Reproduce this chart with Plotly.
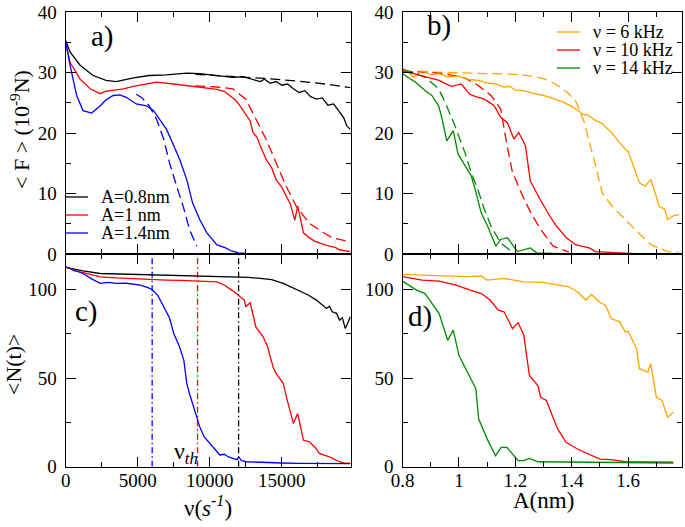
import plotly.graph_objects as go

# ---------------- data ----------------
# Panel a: <F> vs frequency (Hz), solid = simulation, dashed = model
a_labels = ["A=0.8nm", "A=1 nm", "A=1.4nm"]
a_colors = ["#000000", "#ff0000", "#0000ff"]

a_black_x = [0, 300, 1000, 1900, 2800, 3500, 4700, 5800, 7000, 8400, 9300, 10500, 11600, 12300, 13000,
             13500, 13800, 14200, 14600, 15000, 15400, 15800, 16200, 16600, 17000, 17400, 17800, 18200,
             18600, 19000, 19300, 19500, 19750]
a_black_y = [35.3, 33.4, 31.2, 29.5, 28.7, 28.5, 29.1, 29.5, 29.6, 29.9, 29.8, 29.5, 29.2, 29.3, 28.9,
             28.5, 28.9, 28.2, 28.5, 27.9, 28.1, 27.3, 26.7, 27.0, 26.0, 25.6, 25.8, 24.6,
             24.8, 23.4, 22.5, 21.2, 20.6]
a_red_x = [0, 300, 1000, 1700, 2400, 2800, 3100, 4000, 4700, 5500, 6300, 7500, 8500, 9300, 10500, 11000,
           11400, 11800, 12100, 12300, 12500, 12800, 13000, 13300, 13500, 13900, 14300, 14600, 15000,
           15300, 15600, 15900, 16100, 16500, 16900, 17300, 17600, 18000, 18300, 18700, 19000, 19300, 19750]
a_red_y = [35.0, 31.7, 28.9, 27.3, 26.5, 26.9, 27.0, 27.3, 27.7, 28.1, 28.4, 28.1, 27.8, 27.6, 27.2, 26.9,
           26.2, 25.4, 24.5, 23.8, 23.1, 22.0, 20.1, 19.2, 17.9, 15.7, 14.2, 12.3, 11.0,
           9.6, 8.2, 5.6, 7.9, 3.5, 2.7, 2.1, 1.8, 1.5, 1.3, 1.1, 0.7, 0.6, 0.4]
a_blue_x = [0, 300, 760, 1200, 1800, 2400, 2800, 3300, 3760, 4200, 4900, 5600, 6100, 6500, 7000, 7500,
            7900, 8400, 8800, 9300, 9800, 10500, 11100, 11500, 12000, 12500, 13000, 14000, 16000, 19750]
a_blue_y = [35.0, 31.2, 26.2, 23.7, 23.3, 24.5, 25.5, 26.2, 26.3, 25.9, 24.8, 24.5, 23.7, 22.3, 20.6, 17.9,
            15.7, 12.3, 8.5, 5.7, 3.5, 1.5, 1.0, 0.5, 0.2, 0.1, 0.05, 0.0, 0.0, 0.0]

a_black_dx = [9000, 12000, 14000, 16000, 18000, 19750]
a_black_dy = [29.7, 29.3, 29.0, 28.6, 28.1, 27.5]
a_red_dx = [9000, 10500, 11600, 12500, 13200, 13900, 14600, 15300, 16000, 16900, 17900, 18500, 19000, 19750]
a_red_dy = [27.8, 27.6, 27.3, 25.6, 22.3, 19.0, 15.1, 11.2, 7.9, 5.1, 3.5, 2.7, 2.4, 2.0]
a_blue_dx = [4900, 5300, 5800, 6300, 6800, 7200, 7700, 8150, 8600, 9100]
a_blue_dy = [26.4, 25.8, 24.5, 22.3, 19.0, 15.1, 11.2, 7.9, 4.0, 1.3]

# Panel b: <F> vs amplitude (nm)
b_labels = ["\u03bd = 6 kHz", "\u03bd = 10 kHz", "\u03bd = 14 kHz"]
b_colors = ["#ffa500", "#ff0000", "#008b00"]

b_orange_x = [0.8, 0.82, 0.84, 0.87, 0.9, 0.93, 0.96, 1.0, 1.04, 1.07, 1.1, 1.13, 1.16, 1.18, 1.2, 1.23,
              1.26, 1.3, 1.34, 1.37, 1.4, 1.44, 1.46, 1.48, 1.51, 1.54, 1.57, 1.59, 1.6, 1.62, 1.64, 1.66,
              1.68, 1.7, 1.71, 1.73, 1.74, 1.76, 1.78]
b_orange_y = [30.4, 30.1, 29.2, 30.3, 29.6, 29.8, 29.3, 29.4, 28.8, 28.7, 28.3, 28.1, 27.6, 27.7, 27.1, 27.0,
              26.6, 26.2, 25.6, 25.1, 24.4, 23.1, 22.9, 22.2, 21.5, 20.1, 18.4, 17.3, 17.0, 14.5, 11.8, 11.2,
              12.3, 9.5, 7.9, 7.4, 5.7, 6.3, 6.5]
b_red_x = [0.8, 0.84, 0.87, 0.9, 0.93, 0.95, 0.974, 1.009, 1.038, 1.06, 1.09, 1.125, 1.148, 1.172, 1.195,
           1.212, 1.236, 1.253, 1.288, 1.323, 1.346, 1.381, 1.415, 1.462, 1.485, 1.57, 1.65, 1.78]
b_red_y = [30.3, 29.8, 29.5, 29.0, 28.7, 28.2, 27.7, 28.1, 26.4, 26.0, 25.6, 24.5, 22.6, 21.7, 19.0,
           20.1, 17.9, 12.1, 9.0, 6.2, 4.6, 2.7, 1.5, 1.0, 0.4, 0.2, 0.0, 0.0]
b_green_x = [0.8, 0.846, 0.881, 0.904, 0.928, 0.939, 0.957, 0.98, 0.997, 1.021, 1.044, 1.061, 1.079, 1.102,
             1.131, 1.148, 1.172, 1.207, 1.236, 1.253, 1.276, 1.4, 1.78]
b_green_y = [29.8, 28.4, 27.0, 26.2, 24.5, 22.6, 18.7, 20.4, 16.5, 14.6, 12.9, 10.1, 6.8, 4.6,
             1.3, 2.4, 2.7, 0.4, 0.7, 1.0, 0.2, 0.0, 0.0]

b_orange_dx = [0.8, 0.9, 1.0, 1.1, 1.2, 1.26, 1.3, 1.334, 1.36, 1.39, 1.416, 1.43, 1.445, 1.465, 1.485,
               1.508, 1.543, 1.59, 1.636, 1.683, 1.741, 1.78]
b_orange_dy = [30.2, 30.1, 30.0, 29.9, 29.7, 29.4, 29.0, 28.3, 27.6, 26.5, 25.1, 23.5, 21.7, 18.0, 14.6,
               10.1, 7.9, 5.7, 3.5, 1.5, 0.4, 0.2]
b_red_dx = [0.8, 0.9, 0.96, 1.02, 1.067, 1.114, 1.148, 1.16, 1.172, 1.189, 1.218, 1.253, 1.288, 1.334, 1.39]
b_red_dy = [30.2, 30.0, 29.7, 29.1, 27.9, 26.2, 24.0, 20.4, 17.6, 13.7, 10.4, 7.0, 4.2, 1.3, 0.3]
b_green_dx = [0.8, 0.881, 0.928, 0.951, 0.986, 1.021, 1.044, 1.067, 1.09, 1.114, 1.148, 1.183]
b_green_dy = [30.6, 29.2, 27.3, 25.1, 21.2, 16.8, 13.4, 10.7, 7.4, 4.6, 1.8, 0.6]

# Panel c: <N(t)> vs frequency (Hz)
c_black_x = [0, 500, 1200, 2400, 3500, 4700, 5800, 7000, 8200, 9300, 10500, 11500, 12100, 12700, 13500,
             14300, 15100, 15600, 16200, 16800, 17400, 17800, 18100, 18300, 18500, 18800, 19000, 19200,
             19400, 19550, 19750]
c_black_y = [112.4, 111.5, 110.5, 109.0, 108.8, 108.3, 108.1, 107.8, 107.6, 107.5, 107.2, 107.2, 107.1, 106.8,
             106.2, 105.5, 103.4, 101.5, 99.6, 97.0, 94.0, 91.5, 89.3, 90.5, 87.4, 86.5, 82.7, 84.0,
             78.0, 80.5, 84.6]
c_red_x = [0, 600, 1200, 2400, 3500, 4700, 5800, 7000, 8000, 9100, 10000, 10500, 11000, 11600, 12100, 12400,
           12500, 12800, 13200, 13500, 13700, 14000, 14200, 14400, 14600, 14900, 15100, 15300, 15500, 15800,
           16100, 16300, 16500, 16900, 17300, 17600, 18000, 18300, 18700, 19000, 19300, 19750]
c_red_y = [112.8, 110.5, 109.5, 107.1, 106.5, 106.0, 105.6, 105.3, 105.1, 104.9, 104.6, 104.3, 102.5, 99.2,
           95.9, 94.0, 90.2, 92.5, 78.9, 75.5, 73.3, 68.0, 62.0, 56.0, 52.6, 49.5, 47.0, 40.0, 33.8, 24.4,
           30.0, 22.0, 15.0, 14.1, 11.0, 7.5, 6.5, 5.6, 4.0, 2.8, 2.2, 1.9]
c_blue_x = [0, 600, 1200, 1800, 2400, 3000, 3500, 4200, 5200, 5700, 6000, 6400, 6800, 7200, 7500, 7900,
            8200, 8400, 8600, 8800, 9100, 9300, 9600, 10000, 10300, 10700, 11000, 11300, 11600, 11900,
            12000, 12200, 12500, 13000, 13900, 15000, 16200, 17500, 19750]
c_blue_y = [112.8, 111.0, 109.0, 106.0, 103.4, 104.0, 103.4, 103.5, 102.4, 101.0, 100.0, 96.5, 90.2, 84.0,
            75.2, 67.7, 60.0, 47.0, 41.0, 35.7, 29.0, 22.6, 17.0, 13.2, 10.0, 6.6, 7.0, 5.5, 4.7, 4.0,
            5.5, 3.5, 2.8, 2.6, 2.3, 2.1, 1.9, 1.8, 1.7]
nu_th = [6000, 9150, 12000]   # threshold frequencies (blue, red, black)
nu_th_colors = ["#0000ff", "#ff0000", "#000000"]

# Panel d: <N(t)> vs amplitude (nm)
d_orange_x = [0.8, 0.93, 1.02, 1.08, 1.1, 1.16, 1.23, 1.3, 1.35, 1.39, 1.42, 1.45, 1.47, 1.5, 1.52, 1.54,
              1.57, 1.59, 1.6, 1.63, 1.64, 1.67, 1.68, 1.7, 1.72, 1.74, 1.76]
d_orange_y = [108.5, 107.7, 107.2, 107.5, 105.3, 106.2, 104.3, 104.0, 102.5, 101.5, 98.7, 94.0, 97.2, 92.6,
              91.1, 83.6, 81.7, 76.0, 76.4, 66.6, 55.3, 53.4, 58.1, 39.2, 37.4, 27.9, 30.8]
d_red_x = [0.8, 0.87, 0.93, 0.99, 1.04, 1.08, 1.11, 1.14, 1.16, 1.19, 1.21, 1.23, 1.25, 1.28, 1.29, 1.31,
           1.35, 1.38, 1.42, 1.46, 1.5, 1.54, 1.59, 1.76]
d_red_y = [107.2, 105.3, 104.7, 102.5, 99.6, 97.7, 94.0, 88.3, 87.4, 77.9, 81.3, 74.2, 51.5, 45.8, 39.2, 37.4,
           21.3, 13.8, 10.0, 7.2, 4.3, 4.0, 2.8, 2.5]
d_green_x = [0.8, 0.85, 0.88, 0.93, 0.96, 0.98, 1.0, 1.03, 1.06, 1.07, 1.1, 1.13, 1.15, 1.17, 1.21, 1.23,
             1.25, 1.28, 1.76]
d_green_y = [104.7, 99.6, 97.7, 86.4, 71.3, 77.0, 62.8, 53.4, 44.0, 27.0, 15.7, 6.2, 10.9, 10.9, 3.4, 3.4,
             4.7, 2.8, 2.1]

# ---------------- layout helpers ----------------
W, H = 685, 527
def px(x):
    return x / W
def py(y):
    return 1 - y / H

SERIF = "Liberation Serif"
LW = 1.3
DASH = "10px,5px"

fig = go.Figure()

def line(x, y, color, xa, ya, dash=None):
    fig.add_trace(go.Scatter(x=x, y=y, mode="lines", xaxis=xa, yaxis=ya, showlegend=False,
                             line=dict(color=color, width=LW, dash=dash), hoverinfo="skip"))

# panel a
for xs, ys, c in [(a_black_x, a_black_y, a_colors[0]), (a_red_x, a_red_y, a_colors[1]),
                  (a_blue_x, a_blue_y, a_colors[2])]:
    line(xs, ys, c, "x", "y")
for xs, ys, c in [(a_black_dx, a_black_dy, a_colors[0]), (a_red_dx, a_red_dy, a_colors[1]),
                  (a_blue_dx, a_blue_dy, a_colors[2])]:
    line(xs, ys, c, "x", "y", DASH)

# panel b
for xs, ys, c in [(b_orange_dx, b_orange_dy, b_colors[0]), (b_red_dx, b_red_dy, b_colors[1]),
                  (b_green_dx, b_green_dy, b_colors[2])]:
    line(xs, ys, c, "x2", "y2", DASH)
for xs, ys, c in [(b_orange_x, b_orange_y, b_colors[0]), (b_red_x, b_red_y, b_colors[1]),
                  (b_green_x, b_green_y, b_colors[2])]:
    line(xs, ys, c, "x2", "y2")

# panel c
for v, c in zip(nu_th, nu_th_colors):
    line([v, v], [0, 120], c, "x3", "y3", "6px,3px,1.5px,3px")
for xs, ys, c in [(c_black_x, c_black_y, a_colors[0]), (c_red_x, c_red_y, a_colors[1]),
                  (c_blue_x, c_blue_y, a_colors[2])]:
    line(xs, ys, c, "x3", "y3")

# panel d
for xs, ys, c in [(d_orange_x, d_orange_y, b_colors[0]), (d_red_x, d_red_y, b_colors[1]),
                  (d_green_x, d_green_y, b_colors[2])]:
    line(xs, ys, c, "x4", "y4")

axis_common = dict(showline=True, linecolor="black", linewidth=1.2, mirror="allticks",
                   ticks="inside", ticklen=10, tickwidth=1.2, tickcolor="black",
                   showgrid=False, zeroline=False, ticklabelstandoff=4, automargin=False,
                   tickfont=dict(family=SERIF, size=19, color="black"))
xaxis_common = dict(axis_common, ticklabelstandoff=-4)

LX = [px(65.7), px(350.7)]
RX = [px(402.5), px(681.7)]
TY = [py(254), py(12)]
BY = [py(466.7), py(254)]

minor5 = dict(ticks="inside", ticklen=5, tickwidth=1.2, tickcolor="black", showgrid=False)

fig.update_layout(
    template="none",
    width=W, height=H, margin=dict(l=0, r=0, t=0, b=0, pad=0),
    paper_bgcolor="white", plot_bgcolor="white", showlegend=False,
    font=dict(family=SERIF, color="black"),
    xaxis=dict(xaxis_common, domain=LX, range=[0, 19780], dtick=5000, tickformat="d",
               showticklabels=False, anchor="y", minor=dict(minor5, dtick=2500)),
    yaxis=dict(axis_common, domain=TY, range=[0, 40], dtick=10, anchor="x",
               minor=dict(minor5, dtick=5)),
    xaxis2=dict(xaxis_common, domain=RX, range=[0.8, 1.79], dtick=0.2, tick0=0.8, showticklabels=False,
                anchor="y2", minor=dict(minor5, dtick=0.1)),
    yaxis2=dict(axis_common, domain=TY, range=[0, 40], dtick=10, anchor="x2",
                minor=dict(minor5, dtick=5)),
    xaxis3=dict(xaxis_common, domain=LX, range=[0, 19780], dtick=5000, tickformat="d", anchor="y3",
                minor=dict(minor5, dtick=2500)),
    yaxis3=dict(axis_common, domain=BY, range=[0, 120], dtick=50, anchor="x3",
                minor=dict(minor5, dtick=25)),
    xaxis4=dict(xaxis_common, domain=RX, range=[0.8, 1.79], dtick=0.2, tick0=0.8, anchor="y4",
                minor=dict(minor5, dtick=0.1)),
    yaxis4=dict(axis_common, domain=BY, range=[0, 120], dtick=50, anchor="x4",
                minor=dict(minor5, dtick=25)),
)

ann = []
def text(x, y, t, size, angle=0, xanchor="center"):
    ann.append(dict(x=px(x), y=py(y), xref="paper", yref="paper", text=t, showarrow=False,
                    textangle=angle, xanchor=xanchor, yanchor="middle",
                    font=dict(family=SERIF, size=size, color="black")))

# axis titles
text(20, 130, "&lt; F &gt; (10<sup>-9</sup>N)", 22, -90)
text(13, 365, "&lt;N(t)&gt;", 22, -90)
text(208, 506, "\u03bd(<i>s<sup>-1</sup></i>)", 23)
text(543, 500, "A(nm)", 23)
# panel labels
text(102, 36, "a)", 29)
text(439, 26, "b)", 29)
text(87, 311, "c)", 29)
text(420, 316, "d)", 29)
# threshold label
text(186, 453, "\u03bd<sub><i>th</i></sub>", 24)

# legends (line sample + label)
shapes = []
for i, (lab, col) in enumerate(zip(a_labels, a_colors)):
    yy = 197 + 18 * i
    shapes.append(dict(type="line", xref="paper", yref="paper", x0=px(66), x1=px(88),
                       y0=py(yy), y1=py(yy), line=dict(color=col, width=LW)))
    text(99, yy, lab, 18, xanchor="left")
for i, (lab, col) in enumerate(zip(b_labels, b_colors)):
    yy = 32 + 18 * i
    shapes.append(dict(type="line", xref="paper", yref="paper", x0=px(557), x1=px(580),
                       y0=py(yy), y1=py(yy), line=dict(color=col, width=LW)))
    text(591, yy, lab, 18, xanchor="left")

fig.update_layout(annotations=ann, shapes=shapes)
fig.write_html("out.html", config={"displayModeBar": False},
               post_script="document.body.style.margin='0px';")
